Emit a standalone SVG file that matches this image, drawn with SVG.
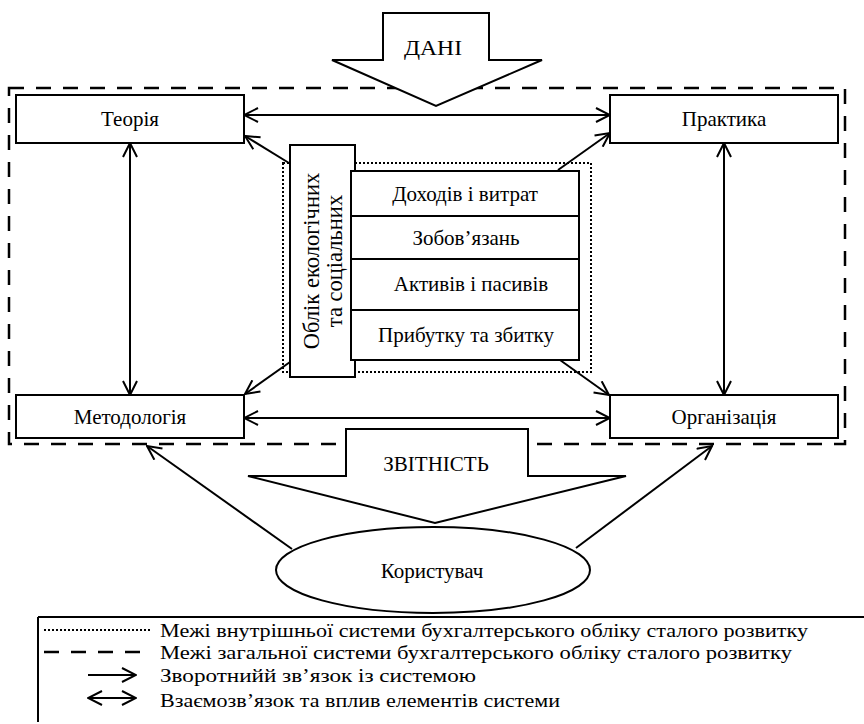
<svg xmlns="http://www.w3.org/2000/svg" width="864" height="724" viewBox="0 0 864 724">
  <style>
    text { font-family: "Liberation Serif", "Times New Roman", serif; font-size: 21px; fill: #000; text-anchor: middle; dominant-baseline: central; }
    .box { fill: #fff; stroke: #000; stroke-width: 2; }
    .bigarrow { fill: #fff; stroke: #000; stroke-width: 2; stroke-linejoin: miter; }
    .dash { fill: none; stroke: #000; stroke-width: 2.5; stroke-dasharray: 15 12; }
    .dot { fill: none; stroke: #000; stroke-width: 2; stroke-dasharray: 2 2; }
    .link { fill: none; stroke: #000; stroke-width: 2; }
    .one { marker-end: url(#head); }
    .two { marker-start: url(#head); marker-end: url(#head); }
    .vert { font-size: 22.5px; }
    .legend { text-anchor: start; font-size: 19px; }
  </style>
  <defs>
    <marker id="head" viewBox="-1 -8 16 16" refX="14" refY="0" markerWidth="16" markerHeight="16" markerUnits="userSpaceOnUse" orient="auto-start-reverse">
      <path d="M0,-7 L14,0 L0,7" fill="none" stroke="#000" stroke-width="2"/>
    </marker>
  </defs>

  <!-- outer boundary of the general system -->
  <rect class="dash" x="9" y="88" width="836" height="356"/>

  <!-- inner boundary of the internal system -->
  <rect class="dot" x="283" y="163" width="308" height="209"/>

  <!-- connectors -->
  <g id="connectors">
    <line class="link two" x1="244" y1="115" x2="610" y2="115"/>
    <line class="link two" x1="244" y1="418" x2="610" y2="418"/>
    <line class="link two" x1="130" y1="143" x2="130" y2="395"/>
    <line class="link two" x1="724" y1="143" x2="724" y2="395"/>
    <line class="link one" x1="289" y1="163" x2="245" y2="136"/>
    <line class="link one" x1="558" y1="170" x2="610" y2="133"/>
    <line class="link one" x1="290" y1="362" x2="245" y2="394"/>
    <line class="link one" x1="560" y1="360" x2="609" y2="395"/>
    <line class="link one" x1="292" y1="549" x2="147" y2="446"/>
    <line class="link one" x1="576" y1="548" x2="712" y2="446"/>
  </g>

  <g id="dani">
    <polygon class="bigarrow" points="383,13 489,13 489,60 542,60 436,106 332,60 383,60"/>
    <text x="433" y="48" textLength="58" lengthAdjust="spacingAndGlyphs">ДАНІ</text>
  </g>

  <g id="teoriya">
    <rect class="box" x="16" y="95" width="228" height="48"/>
    <text x="130" y="119">Теорія</text>
  </g>
  <g id="praktyka">
    <rect class="box" x="610" y="95" width="228" height="48"/>
    <text x="724" y="119">Практика</text>
  </g>
  <g id="metodolohiya">
    <rect class="box" x="16" y="395" width="228" height="43"/>
    <text x="130" y="417">Методологія</text>
  </g>
  <g id="orhanizatsiya">
    <rect class="box" x="610" y="395" width="228" height="43"/>
    <text x="724" y="417">Організація</text>
  </g>

  <g id="oblik">
    <rect class="box" x="290" y="145" width="65" height="232"/>
    <text class="vert" transform="translate(311,261) rotate(-90)">Облік екологічних</text>
    <text class="vert" transform="translate(334,261) rotate(-90)">та соціальних</text>
  </g>

  <g id="stack">
    <rect class="box" x="351" y="171" width="228" height="45"/>
    <text x="465" y="194">Доходів і витрат</text>
    <rect class="box" x="351" y="216" width="228" height="43"/>
    <text x="466" y="238">Зобов’язань</text>
    <rect class="box" x="351" y="259" width="228" height="51"/>
    <text x="471" y="284">Активів і пасивів</text>
    <rect class="box" x="351" y="310" width="228" height="50"/>
    <text x="466" y="335">Прибутку та збитку</text>
  </g>

  <g id="zvitnist">
    <polygon class="bigarrow" points="346,429 528,429 528,476 626,476 435,523 248,476 346,476"/>
    <text x="436" y="464">ЗВІТНІСТЬ</text>
  </g>

  <g id="korystuvach">
    <ellipse class="box" cx="433" cy="570" rx="157" ry="43"/>
    <text x="432" y="571">Користувач</text>
  </g>

  <!-- legend -->
  <g id="legend">
    <line class="link" x1="38" y1="617" x2="864" y2="617"/>
    <line class="link" x1="38" y1="617" x2="38" y2="722"/>
    <line class="dot" x1="44" y1="630" x2="150" y2="630"/>
    <line class="dash" x1="44" y1="652" x2="150" y2="652"/>
    <line class="link one" x1="88" y1="675" x2="136" y2="675"/>
    <line class="link two" x1="88" y1="698" x2="136" y2="698"/>
    <text class="legend" x="160" y="630" textLength="648" lengthAdjust="spacingAndGlyphs">Межі внутрішньої системи бухгалтерського обліку сталого розвитку</text>
    <text class="legend" x="160" y="652" textLength="632" lengthAdjust="spacingAndGlyphs">Межі загальної системи бухгалтерського обліку сталого розвитку</text>
    <text class="legend" x="160" y="675" textLength="316" lengthAdjust="spacingAndGlyphs">Зворотнийй зв’язок із системою</text>
    <text class="legend" x="160" y="700" textLength="400" lengthAdjust="spacingAndGlyphs">Взаємозв’язок та вплив елементів системи</text>
  </g>
</svg>
